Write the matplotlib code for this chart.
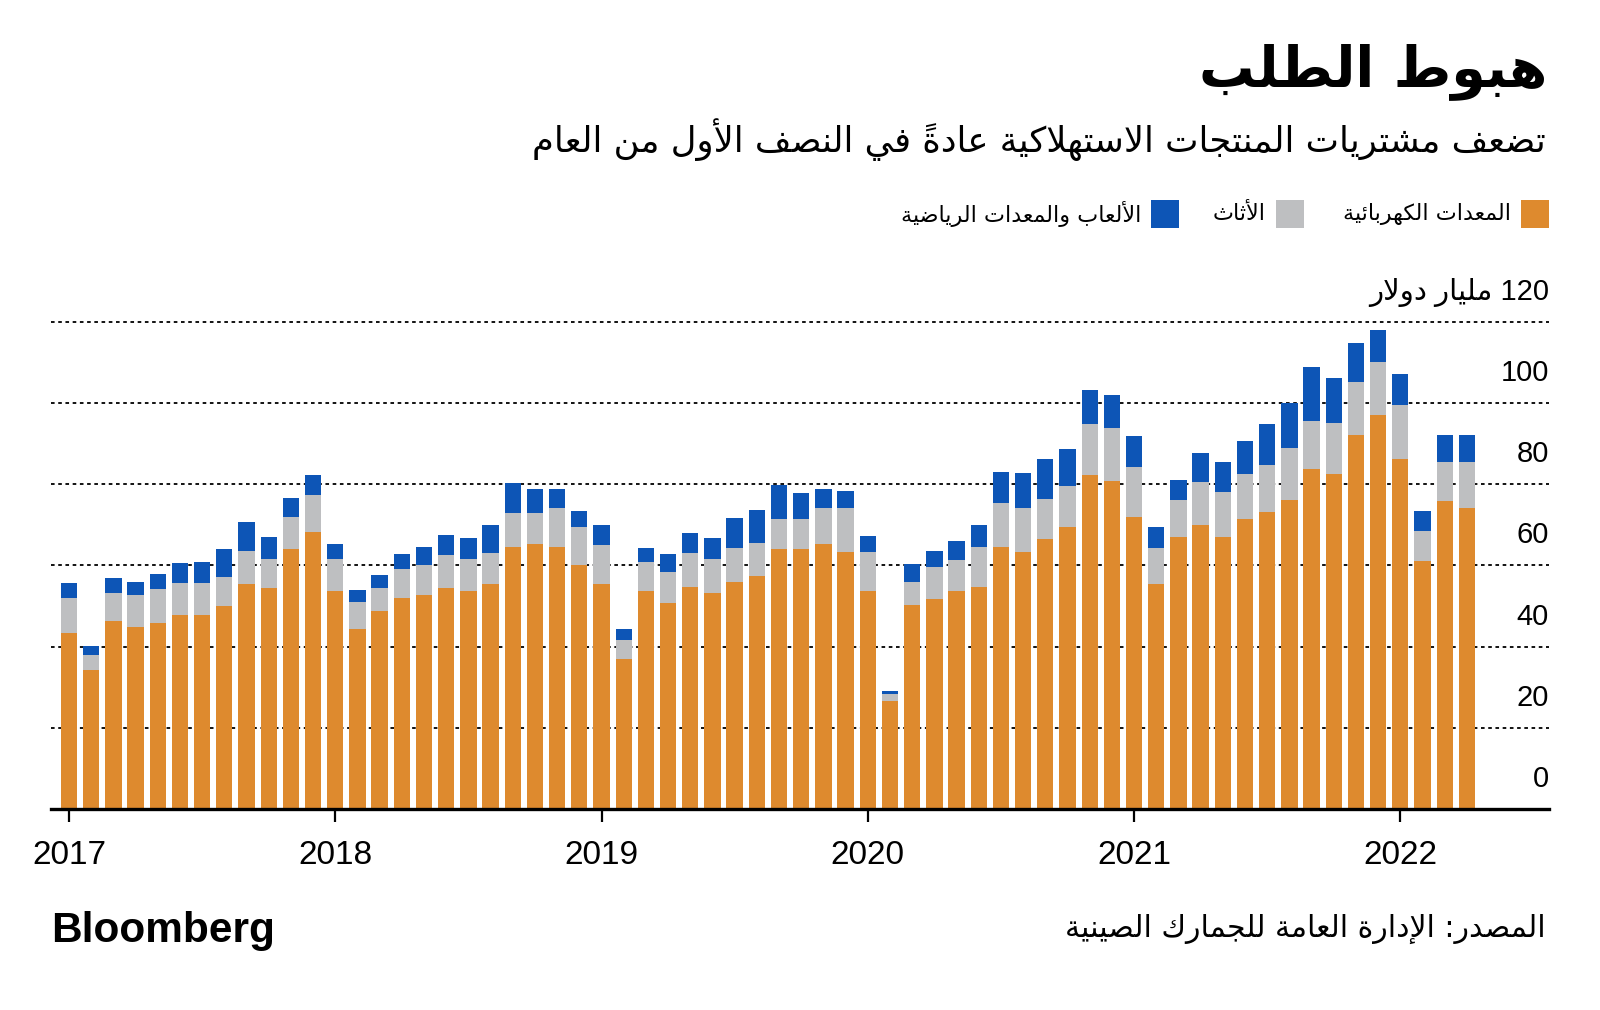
import matplotlib
matplotlib.use("Agg")
import matplotlib.pyplot as plt
import matplotlib.transforms as mtransforms
from matplotlib.patches import Rectangle
import numpy as np

# ---------------- data (billion USD, monthly Jan 2017 - Apr 2022) ----------------
years = ["2017", "2018", "2019", "2020", "2021", "2022"]
electrical = [43.4, 34.2, 46.4, 44.8, 45.7, 47.7, 47.7, 50.0, 55.4, 54.3, 64.0, 68.1,
              53.7, 44.2, 48.7, 52.0, 52.7, 54.3, 53.7, 55.3, 64.4, 65.3, 64.4, 60.1,
              55.3, 37.0, 53.7, 50.7, 54.7, 53.1, 56.0, 57.4, 64.0, 64.0, 65.3, 63.2,
              53.7, 26.7, 50.2, 51.8, 53.7, 54.7, 64.4, 63.2, 66.5, 69.4, 82.1, 80.7,
              71.9, 55.5, 66.9, 70.0, 66.9, 71.3, 73.2, 76.0, 83.7, 82.5, 92.1, 97.0,
              86.2, 61.0, 75.9, 74.2]
elec_furn = [51.9, 38.0, 53.1, 52.7, 54.2, 55.6, 55.6, 57.1, 63.4, 61.5, 71.8, 77.2,
             61.5, 50.9, 54.4, 59.2, 60.1, 62.6, 61.5, 63.1, 72.8, 72.8, 74.1, 69.3,
             64.9, 41.6, 60.7, 58.4, 63.0, 61.5, 64.3, 65.6, 71.5, 71.5, 74.1, 74.1,
             63.3, 28.2, 55.8, 59.6, 61.3, 64.4, 75.4, 74.2, 76.4, 79.6, 94.8, 93.7,
             84.3, 64.2, 76.0, 80.6, 78.1, 82.4, 84.8, 88.8, 95.6, 95.1, 105.0, 110.0,
             99.5, 68.5, 85.5, 85.5]
totals = [55.7, 40.2, 56.9, 56.0, 57.9, 60.5, 60.9, 64.0, 70.6, 67.0, 76.6, 82.2,
          65.3, 53.8, 57.6, 62.7, 64.5, 67.5, 66.8, 70.0, 80.2, 78.8, 78.8, 73.4,
          70.0, 44.2, 64.3, 62.7, 68.0, 66.8, 71.6, 73.7, 79.8, 77.8, 78.8, 78.4,
          67.2, 29.0, 60.2, 63.6, 65.9, 70.0, 83.0, 82.6, 86.2, 88.7, 103.1, 101.9,
          91.8, 69.5, 81.1, 87.6, 85.5, 90.5, 94.7, 99.9, 108.9, 106.0, 114.7, 118.0,
          107.1, 73.3, 92.1, 92.1]
furniture = [round(b - a, 1) for a, b in zip(electrical, elec_furn)]
toys_sports = [round(c - b, 1) for b, c in zip(elec_furn, totals)]
y_ticks = [0, 20, 40, 60, 80, 100]

title_ar = "هبوط الطلب"
subtitle_ar = "تضعف مشتريات المنتجات الاستهلاكية عادةً في النصف الأول من العام"
legend_labels = ["المعدات الكهربائية", "الأثاث", "الألعاب والمعدات الرياضية"]
unit_label = "120 مليار دولار"
source_ar = "المصدر: الإدارة العامة للجمارك الصينية"

# ---------------- minimal Arabic shaping + visual reordering ----------------
DUAL = {0x0626: 0xFE89, 0x0628: 0xFE8F, 0x062A: 0xFE95, 0x062B: 0xFE99, 0x062C: 0xFE9D,
        0x062D: 0xFEA1, 0x062E: 0xFEA5, 0x0633: 0xFEB1, 0x0634: 0xFEB5, 0x0635: 0xFEB9,
        0x0636: 0xFEBD, 0x0637: 0xFEC1, 0x0638: 0xFEC5, 0x0639: 0xFEC9, 0x063A: 0xFECD,
        0x0641: 0xFED1, 0x0642: 0xFED5, 0x0643: 0xFED9, 0x0644: 0xFEDD, 0x0645: 0xFEE1,
        0x0646: 0xFEE5, 0x0647: 0xFEE9, 0x064A: 0xFEF1}
RIGHT = {0x0622: 0xFE81, 0x0623: 0xFE83, 0x0624: 0xFE85, 0x0625: 0xFE87, 0x0627: 0xFE8D,
         0x0629: 0xFE93, 0x062F: 0xFEA9, 0x0630: 0xFEAB, 0x0631: 0xFEAD, 0x0632: 0xFEAF,
         0x0648: 0xFEED, 0x0649: 0xFEEF}
LAMALEF = {"\u0622": 0xFEF5, "\u0623": 0xFEF7, "\u0625": 0xFEF9, "\u0627": 0xFEFB}


def is_mark(c):
    return 0x064B <= ord(c) <= 0x0652 or ord(c) == 0x0670


def ar(s):
    units = []
    for c in s:
        if is_mark(c) and units:
            units[-1][1].append(c)
        else:
            units.append([c, []])
    merged = []
    i = 0
    while i < len(units):
        c = units[i][0]
        if c == "\u0644" and i + 1 < len(units) and units[i + 1][0] in LAMALEF:
            merged.append(["LA" + units[i + 1][0], units[i][1] + units[i + 1][1]])
            i += 2
        else:
            merged.append(units[i])
            i += 1

    def dual(x):
        return x is not None and len(x) == 1 and ord(x) in DUAL

    def rjoin(x):
        return x is not None and ((len(x) == 1 and (ord(x) in DUAL or ord(x) in RIGHT))
                                  or x.startswith("LA"))

    glyphs = []
    for i, (c, marks) in enumerate(merged):
        prev = merged[i - 1][0] if i > 0 else None
        nxt = merged[i + 1][0] if i + 1 < len(merged) else None
        jp = dual(prev) and rjoin(c)
        if c.startswith("LA"):
            g = chr(LAMALEF[c[2]] + (1 if dual(prev) else 0))
        elif ord(c) in DUAL:
            jn = rjoin(nxt)
            b = DUAL[ord(c)]
            g = chr(b + 3) if (jp and jn) else chr(b + 1) if jp else chr(b + 2) if jn else chr(b)
        elif ord(c) in RIGHT:
            g = chr(RIGHT[ord(c)] + (1 if jp else 0))
        elif c == "\u0621":
            g = "\uFE80"
        else:
            g = c
        glyphs.append((g, "".join(marks), c.isascii() and c.isalnum()))
    groups = []
    for g, m, ltr in glyphs:
        if ltr and groups and groups[-1][0]:
            groups[-1][1].append(g + m)
        else:
            groups.append([ltr, [g + m] if ltr else [m + g]])
    out = []
    for ltr, items in reversed(groups):
        out.append("".join(items) if ltr else "".join(reversed(items)))
    return "".join(out)


# ---------------- figure ----------------
W, H = 1600, 1010
fig = plt.figure(figsize=(W / 100, H / 100), dpi=100)
fig.patch.set_facecolor("white")


def fx(px):
    return px / W


def fy(py):
    return 1 - py / H


ax_left, ax_right, ax_bottom, ax_top = 51, 1549, 809, 321.5
ax = fig.add_axes([fx(ax_left), fy(ax_bottom), fx(ax_right - ax_left), (ax_bottom - ax_top) / H])

ORANGE = "#DE8A2E"
GRAY = "#BEBFC1"
BLUE = "#0D55B6"
ARFONT = ["DejaVu Sans"]
NUMFONT = ["Liberation Sans", "DejaVu Sans"]

x = np.arange(len(electrical))
bw = 0.735
e = np.array(electrical)
f = np.array(furniture)
t = np.array(toys_sports)
ax.bar(x, e, width=bw, color=ORANGE, zorder=3, linewidth=0)
ax.bar(x, f, width=bw, bottom=e, color=GRAY, zorder=3, linewidth=0)
ax.bar(x, t, width=bw, bottom=e + f, color=BLUE, zorder=3, linewidth=0)

ax.set_xlim(-0.81, 66.7)
ax.set_ylim(0, 120)

for v in y_ticks[1:] + [120]:
    ax.axhline(v, color="black", lw=1.3, ls=(0, (2, 2)), zorder=1, clip_on=False)
ax.axhline(0, color="black", lw=2.4, zorder=4, clip_on=False)

for s in ax.spines.values():
    s.set_visible(False)
ax.set_yticks([])
ax.set_xticks(np.arange(0, len(electrical), 12))
ax.set_xticklabels(years, fontsize=24, family=NUMFONT)
ax.tick_params(axis="x", length=9, width=1.6, color="black", pad=13, direction="out")
ax.patch.set_alpha(0)

trans = mtransforms.blended_transform_factory(ax.transAxes, ax.transData)
for v in y_ticks:
    ax.text(1.0, v + 5.4, str(v), transform=trans, ha="right", va="baseline",
            fontsize=21, family=NUMFONT, clip_on=False)
ax.text(1.0, 120 + 5.4, ar(unit_label), transform=trans, ha="right", va="baseline",
        fontsize=21, family=NUMFONT, clip_on=False)

# ---------------- titles ----------------
fig.text(fx(1547), fy(72), ar(title_ar), ha="right", va="center", fontsize=40,
         fontweight="bold", family=ARFONT)
fig.text(fx(1546), fy(140), ar(subtitle_ar), ha="right", va="center", fontsize=25.5,
         family=ARFONT)

# ---------------- legend ----------------
leg_colors = [ORANGE, GRAY, BLUE]
sq_right = [1549, 1304, 1179]
for col, xr, lab in zip(leg_colors, sq_right, legend_labels):
    fig.add_artist(Rectangle((fx(xr - 28), fy(228)), fx(28), 28 / H, transform=fig.transFigure,
                             facecolor=col, edgecolor="none"))
    fig.text(fx(xr - 38), fy(214), ar(lab), ha="right", va="center", fontsize=16,
             family=ARFONT)

# ---------------- footer ----------------
fig.text(fx(51), fy(931), "Bloomberg", ha="left", va="center", fontsize=30.5,
         fontweight="bold", family=["Liberation Sans", "DejaVu Sans"])
fig.text(fx(1546), fy(929), ar(source_ar), ha="right", va="center", fontsize=21.5,
         family=ARFONT)

fig.savefig("out.png", dpi=100, facecolor="white")
